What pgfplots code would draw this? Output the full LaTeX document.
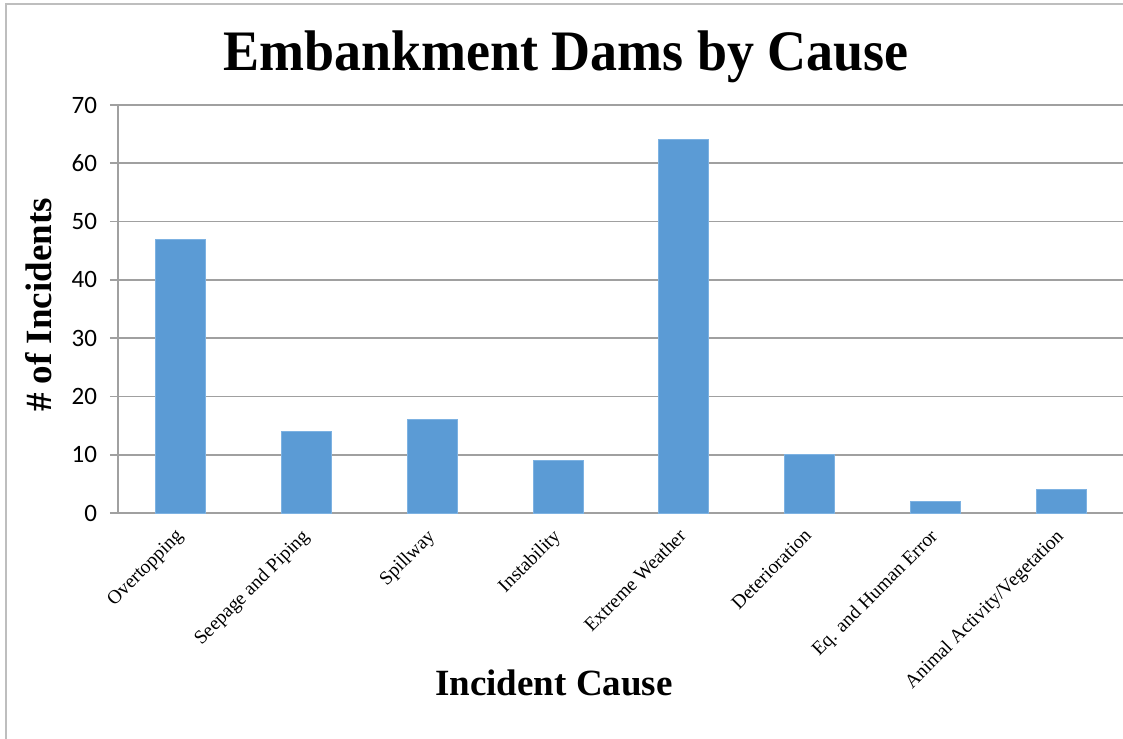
\documentclass[border=0pt]{standalone}
\usepackage{pgfplots}
\pgfplotsset{compat=1.18}
\usepackage{fontspec}
\setmainfont{Liberation Serif}
\newfontfamily\calibri{Carlito}

\definecolor{barblue}{RGB}{91,155,213}
\definecolor{baredge}{RGB}{125,178,226}
\definecolor{gridgray}{RGB}{160,160,160}
\definecolor{framegray}{RGB}{190,190,190}

\pgfplotstableread{
idx count
0 47
1 14
2 16
3 9
4 64
5 10
6 2
7 4
}\causes

\begin{document}
\begin{tikzpicture}
\begin{axis}[
  at={(0,0)}, anchor=south west,
  scale only axis,
  width=503pt, height=204pt,
  xmin=-0.5, xmax=7.5,
  ymin=0, ymax=70,
  axis x line*=bottom, axis y line*=left,
  axis line style={draw=gridgray, line width=0.8pt, -},
  xtick={0,...,7},
  xticklabels={Overtopping, Seepage and Piping, Spillway, Instability,
               Extreme Weather, Deterioration, Eq. and Human Error,
               Animal Activity/Vegetation},
  major x tick style={draw=none},
  xticklabel style={font=\fontsize{9.7}{12}\selectfont, rotate=45,
                    anchor=north east, inner sep=0pt, xshift=-4.5pt, yshift=0pt},
  extra x ticks={-0.5,0.5,...,7.5},
  extra x tick labels={},
  extra x tick style={major tick length=3.5pt, tick align=outside,
                      tick style={draw=gridgray, line width=0.8pt},
                      grid=none},
  ytick={0,10,...,70},
  ymajorgrids,
  grid style={draw=gridgray, line width=0.8pt},
  major y tick style={draw=gridgray, line width=0.8pt},
  major tick length=4pt,
  tick align=outside,
  yticklabel style={font=\calibri\fontsize{12.5}{14}\selectfont,
                    /pgf/number format/assume math mode=true, xshift=-3pt},
  clip=false,
]
\addplot[ybar, bar width=25pt, fill=barblue, draw=baredge, line width=0.5pt]
  table[x=idx, y=count] {\causes};
\end{axis}

% chart title and axis titles
\node[font=\bfseries\fontsize{27}{32}\selectfont, yscale=1.06] at (224pt,228pt) {Embankment Dams by Cause};
\node[font=\bfseries\fontsize{18.5}{22}\selectfont] at (218pt,-85pt) {Incident Cause};
\node[font=\bfseries\fontsize{18.5}{22}\selectfont, rotate=90] at (-39.5pt,104pt) {\# of Incidents};

% chart frame
\draw[framegray, line width=1pt] (-56pt,-120pt) -- (-56pt,254.5pt) -- (510pt,254.5pt);

\pgfresetboundingbox
\path[use as bounding box] (-59pt,-112.5pt) rectangle (502.5pt,256.5pt);
\end{tikzpicture}
\end{document}
